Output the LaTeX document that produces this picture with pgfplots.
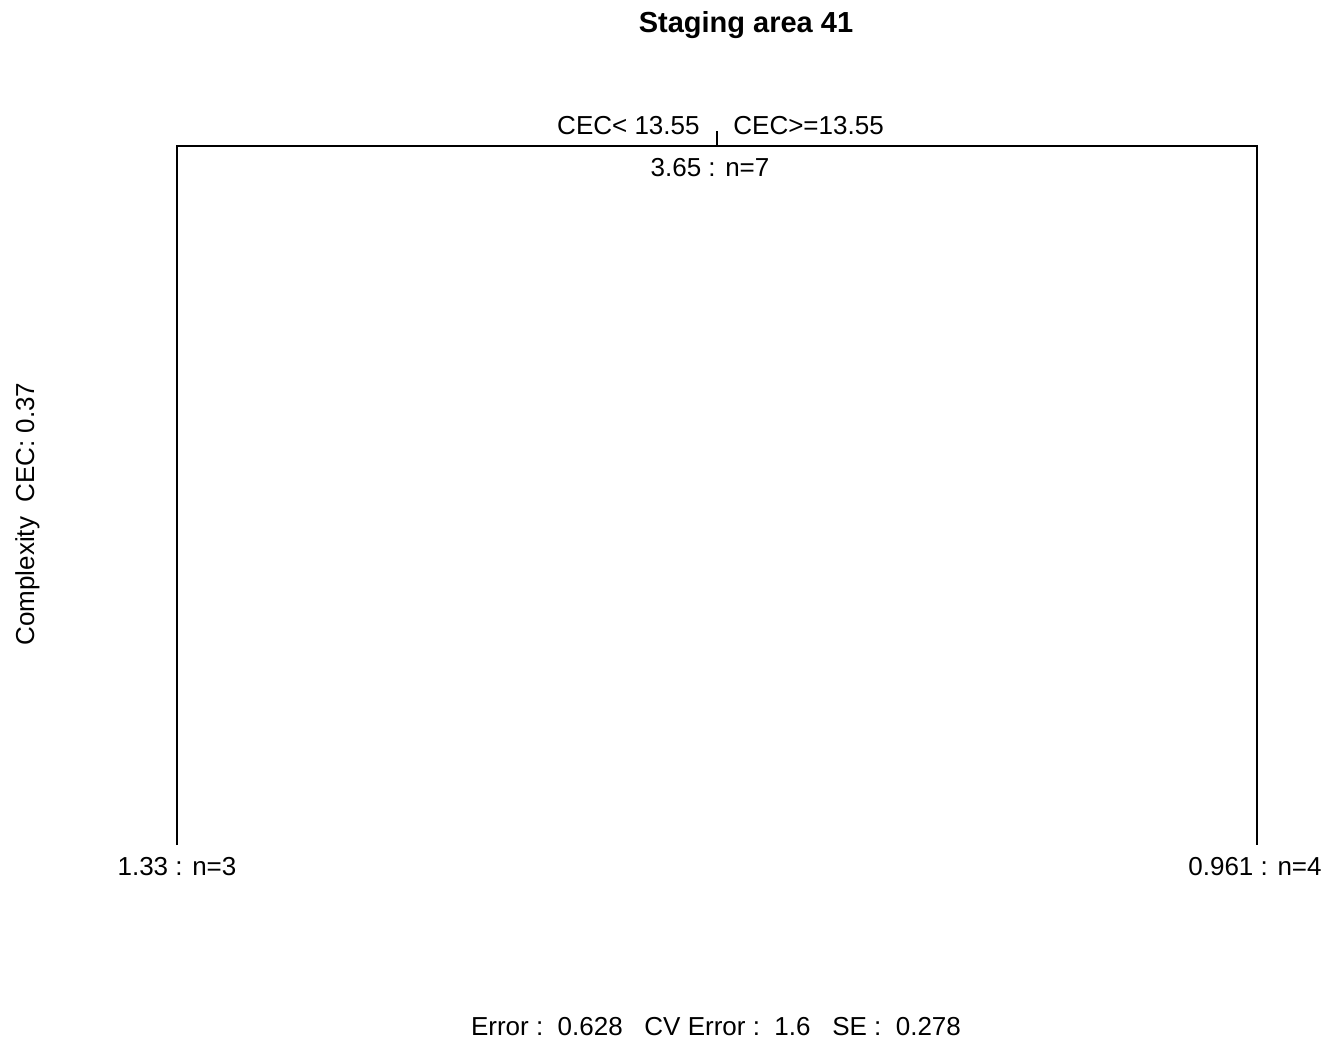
\documentclass[border=0pt]{standalone}
\usepackage{fontspec}
\setmainfont{Liberation Sans}
\usepackage{pgfplots}
\pgfplotsset{compat=1.18}
\begin{document}
\begin{tikzpicture}
\begin{axis}[
  width=664pt, height=521pt, scale only axis,
  xmin=0, xmax=1328, ymin=0, ymax=1042, y dir=reverse,
  axis lines=none, ticks=none, clip=false, enlargelimits=false,
]
\addplot[draw=none] coordinates {(0,0) (1328,1042)};
\addplot[black, line width=0.7pt] coordinates {(177,845) (177,146) (1257,146) (1257,845)};
\addplot[black, line width=0.7pt] coordinates {(717,146) (717,131)};
\node[anchor=base, font=\fontsize{14.5}{17}\selectfont\bfseries] at (axis cs:746,33) {Staging area 41};
\node[anchor=base east, font=\fontsize{13}{15}\selectfont, inner sep=0pt] at (axis cs:700,135) {CEC< 13.55};
\node[anchor=base west, font=\fontsize{13}{15}\selectfont, inner sep=0pt] at (axis cs:733,135) {CEC>=13.55};
\node[anchor=base, font=\fontsize{13}{15}\selectfont, inner sep=0pt] at (axis cs:710,177) {3.65 : n=7};
\node[anchor=base, font=\fontsize{13}{15}\selectfont, inner sep=0pt] at (axis cs:177,875) {1.33 : n=3};
\node[anchor=base, font=\fontsize{13}{15}\selectfont, inner sep=0pt] at (axis cs:1255,875) {0.961 : n=4};
\node[anchor=base, font=\fontsize{13}{15}\selectfont, inner sep=0pt] at (axis cs:716,1035) {Error :\ \ 0.628\ \ \ CV Error :\ \ 1.6\ \ \ SE :\ \ 0.278};
\node[anchor=base, rotate=90, font=\fontsize{13}{15}\selectfont, inner sep=0pt] at (axis cs:34,514) {Complexity\ \ CEC: 0.37};
\end{axis}
\end{tikzpicture}
\end{document}
